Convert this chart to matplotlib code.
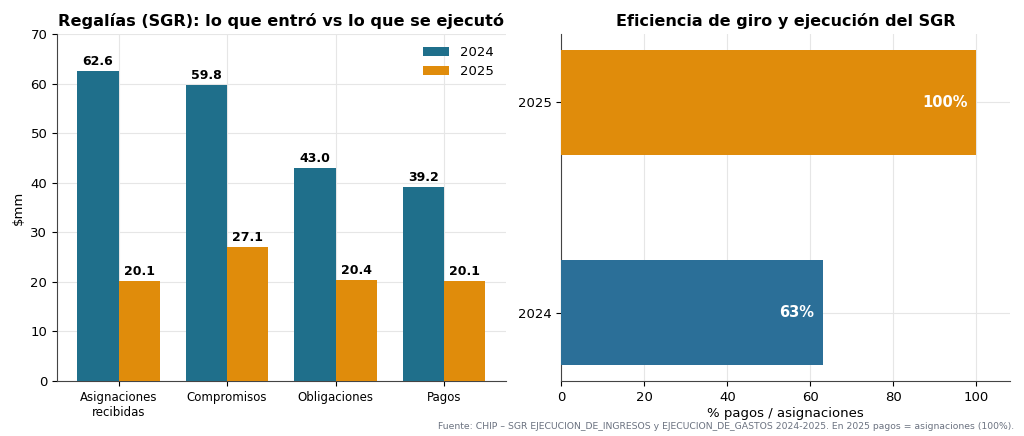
import matplotlib.pyplot as plt
import numpy as np

# data
categorias = ['Asignaciones\nrecibidas', 'Compromisos', 'Obligaciones', 'Pagos']
valores_2024 = [62.6, 59.8, 43.0, 39.2]
valores_2025 = [20.1, 27.1, 20.4, 20.1]

anios = ['2024', '2025']
eficiencia = [63, 100]

c24 = '#1f6f8b'
c25 = '#e08c0b'
c24_h = '#2b6f98'

fig = plt.figure(figsize=(10.24, 4.36), dpi=100)
ax1 = fig.add_axes([0.0557, 0.126, 0.438, 0.796])
ax2 = fig.add_axes([0.548, 0.126, 0.438, 0.796])

# --- left panel: grouped bars
x = np.arange(len(categorias))
w = 0.38
b1 = ax1.bar(x - w / 2, valores_2024, w, color=c24, label='2024', zorder=3)
b2 = ax1.bar(x + w / 2, valores_2025, w, color=c25, label='2025', zorder=3)
for bars in (b1, b2):
    for r in bars:
        ax1.text(r.get_x() + r.get_width() / 2, r.get_height() + 0.6, f'{r.get_height():.1f}',
                 ha='center', va='bottom', fontsize=9, fontweight='bold')
ax1.set_xticks(x)
ax1.set_xticklabels(categorias, fontsize=8.5)
ax1.tick_params(axis='y', labelsize=9.5)
ax1.set_ylim(0, 70)
ax1.set_ylabel('\\$mm', fontsize=9.5)
ax1.set_title('Regalías (SGR): lo que entró vs lo que se ejecutó', fontsize=11.6, fontweight='bold')
ax1.legend(loc='upper right', frameon=False, fontsize=9.5)
ax1.grid(True, color='#e6e6e6', linewidth=0.8, zorder=0)

# --- right panel: horizontal bars
y = np.arange(len(anios))
hb = ax2.barh(y, eficiencia, 0.5, color=[c24_h, c25], zorder=3)
for r, v in zip(hb, eficiencia):
    ax2.text(v - 2, r.get_y() + r.get_height() / 2, f'{v}%', ha='right', va='center',
             color='white', fontsize=10.5, fontweight='bold', zorder=4)
ax2.set_yticks(y)
ax2.set_yticklabels(anios)
ax2.tick_params(labelsize=9.5)
ax2.set_xlim(0, 108)
ax2.set_xlabel('% pagos / asignaciones', fontsize=9.5, labelpad=2)
ax2.set_title('Eficiencia de giro y ejecución del SGR', fontsize=11.5, fontweight='bold')
ax2.grid(True, color='#e6e6e6', linewidth=0.8, zorder=0)

for ax in (ax1, ax2):
    ax.spines['top'].set_visible(False)
    ax.spines['right'].set_visible(False)
    ax.spines['left'].set_color('#444444')
    ax.spines['bottom'].set_color('#444444')
    ax.set_axisbelow(True)

fig.text(0.99, 0.012, 'Fuente: CHIP – SGR EJECUCION_DE_INGRESOS y EJECUCION_DE_GASTOS 2024-2025. '
         'En 2025 pagos = asignaciones (100%).', ha='right', va='bottom', fontsize=6.7, color='#6b7280')

fig.savefig('out.png', dpi=100)
